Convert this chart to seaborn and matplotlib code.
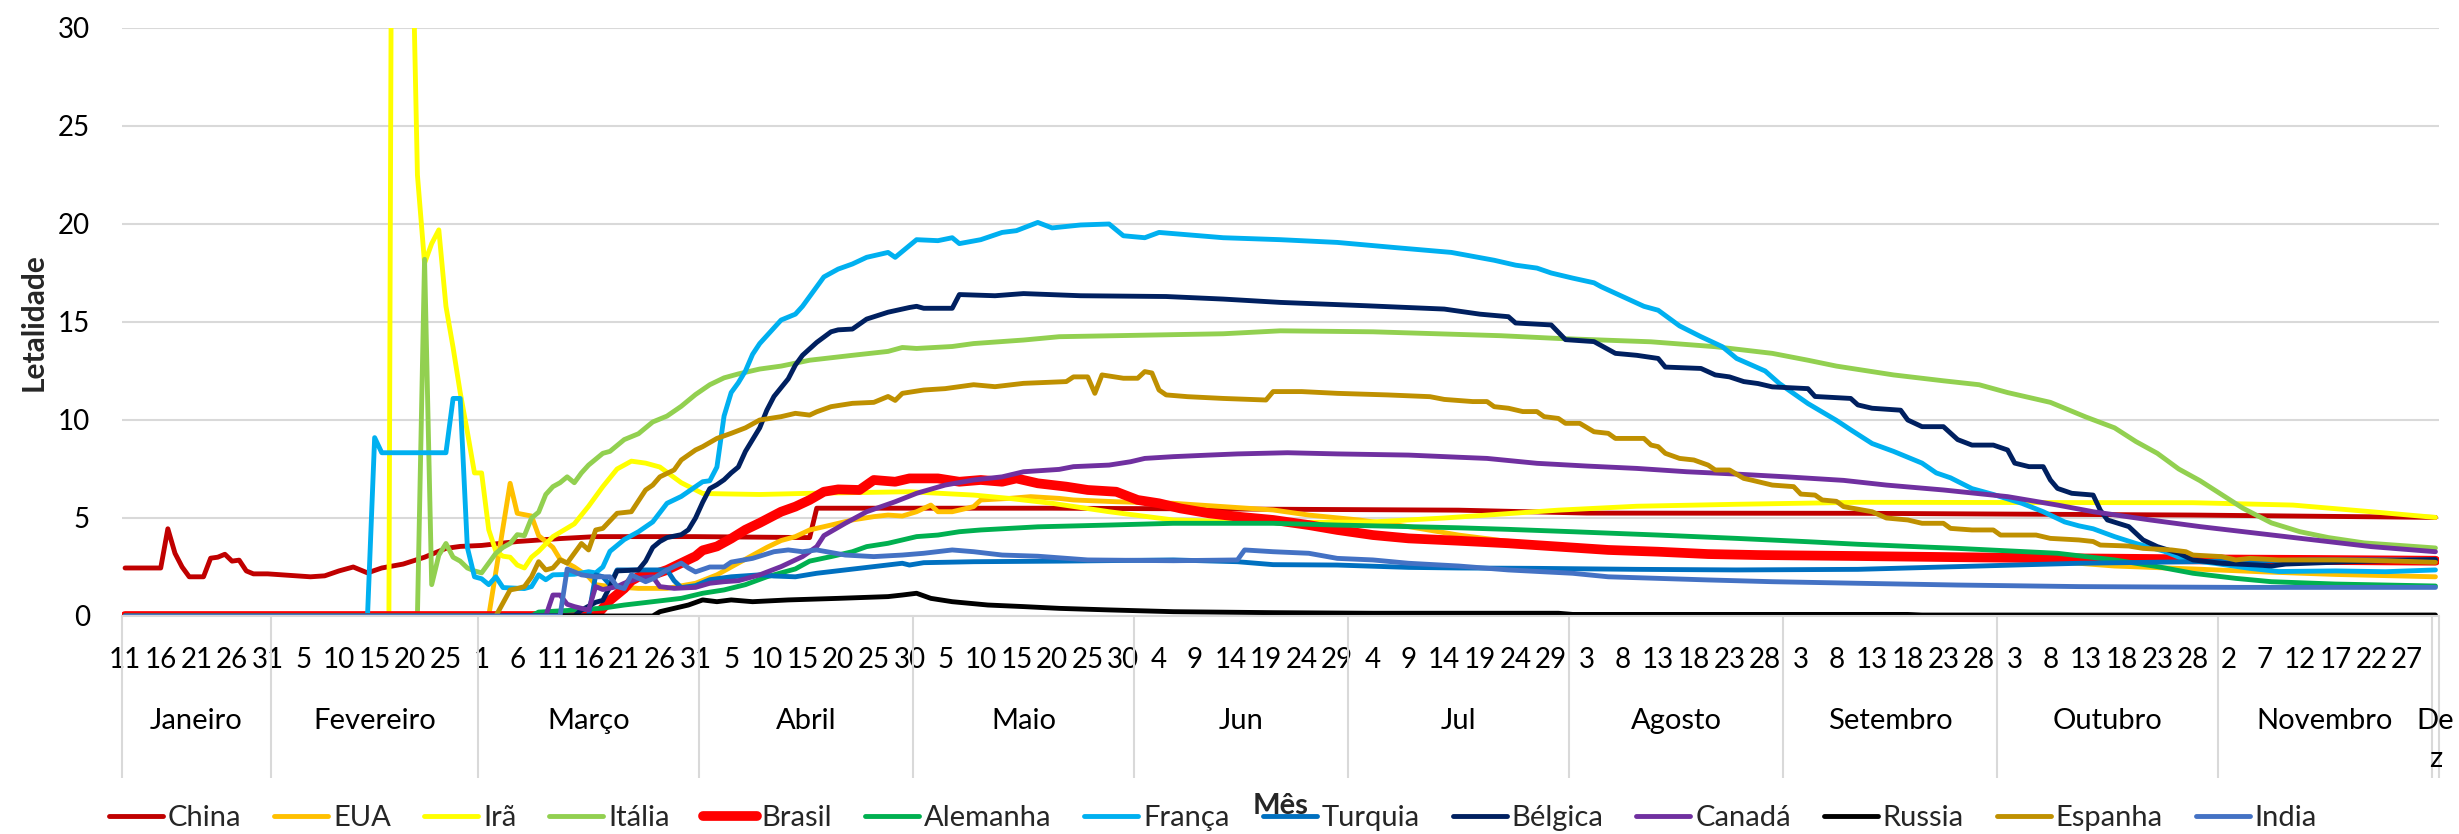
import matplotlib
matplotlib.use("Agg")
import matplotlib.pyplot as plt
import pandas as pd
import seaborn as sns

# ---------------- categories ----------------
dates = pd.date_range("2020-01-11", "2020-12-01").drop(pd.Timestamp("2020-08-31"))
month_names = ["Janeiro", "Fevereiro", "Março", "Abril", "Maio", "Jun", "Jul",
               "Agosto", "Setembro", "Outubro", "Novembro", "De\nz"]

countries = ["China", "EUA", "Irã", "Itália", "Brasil", "Alemanha", "França",
             "Turquia", "Bélgica", "Canadá", "Russia", "Espanha", "India"]
colors = {"China": "#C00000", "EUA": "#FFC000", "Irã": "#FFFF00", "Itália": "#92D050",
          "Brasil": "#FF0000", "Alemanha": "#00B050", "França": "#00B0F0",
          "Turquia": "#0070C0", "Bélgica": "#002060", "Canadá": "#7030A0",
          "Russia": "#000000", "Espanha": "#BF9000", "India": "#4472C4"}

# ---------------- series: (day index, letalidade %) ----------------
china = [(0, 2.45), (5, 2.45), (6, 4.45), (7, 3.2), (8, 2.5), (9, 2.0), (11, 2.0), (12, 2.95),
         (13, 3.0), (14, 3.15), (15, 2.8), (16, 2.85), (17, 2.3), (18, 2.15), (20, 2.15), (22, 2.1),
         (26, 2.0), (28, 2.05), (30, 2.3), (32, 2.5), (34, 2.2), (36, 2.45), (39, 2.65), (42, 3.0),
         (45, 3.45), (47, 3.55), (50, 3.6), (55, 3.8), (61, 3.95), (66, 4.05), (80, 4.05), (96, 4.0),
         (97, 5.5), (130, 5.5), (160, 5.45), (187, 5.4), (205, 5.25), (243, 5.24), (290, 5.15),
         (324, 5.03)]
eua = [(0, 0), (51, 0), (54, 6.77), (55, 5.24), (57, 5.1), (58, 4.1), (59, 3.8), (60, 3.5),
       (61, 2.9), (63, 2.5), (65, 2.0), (66, 1.6), (68, 1.5), (72, 1.41), (76, 1.41), (80, 1.67),
       (83, 2.1), (86, 2.7), (88, 3.1), (90, 3.5), (92, 3.85), (94, 4.05), (96, 4.39), (99, 4.64),
       (102, 4.9), (105, 5.07), (107, 5.15), (109, 5.1), (111, 5.32), (113, 5.66), (114, 5.32),
       (116, 5.32), (118, 5.49), (119, 5.58), (120, 5.92), (124, 6.0), (127, 6.09), (131, 6.0),
       (133, 5.92), (139, 5.83), (147, 5.75), (154, 5.58), (161, 5.41), (166, 5.15), (173, 4.9),
       (180, 4.56), (187, 4.13), (193, 3.85), (200, 3.6), (215, 3.3), (230, 3.15), (245, 3.05),
       (260, 2.95), (270, 2.8), (279, 2.55), (290, 2.4), (300, 2.25), (310, 2.12), (324, 2.0)]
ira = [(0, 0), (37, 0), (38, 100), (39, 100), (40, 40), (41, 22.5), (42, 18.0), (43, 19.0),
       (44, 19.7), (45, 15.8), (46, 13.7), (47, 11.4), (48, 9.4), (49, 7.3), (50, 7.3), (51, 4.4),
       (52, 3.3), (53, 3.05), (54, 3.0), (55, 2.6), (56, 2.45), (57, 3.0), (58, 3.3), (60, 4.05),
       (63, 4.7), (65, 5.6), (67, 6.6), (69, 7.5), (71, 7.9), (73, 7.8), (75, 7.6), (78, 6.8),
       (81, 6.25), (89, 6.2), (96, 6.26), (110, 6.34), (119, 6.17), (124, 6.0), (130, 5.75),
       (138, 5.32), (147, 4.9), (161, 4.76), (175, 4.8), (185, 5.0), (201, 5.4), (212, 5.6),
       (226, 5.7), (243, 5.8), (290, 5.78), (304, 5.66), (315, 5.32), (324, 5.03)]
italia = [(0, 0), (41, 0), (42, 18.2), (43, 1.6), (44, 3.1), (45, 3.7), (46, 3.0), (47, 2.8),
          (48, 2.45), (49, 2.3), (50, 2.2), (51, 2.7), (52, 3.2), (53, 3.5), (54, 3.7), (55, 4.15),
          (56, 4.1), (57, 5.0), (58, 5.3), (59, 6.2), (60, 6.6), (61, 6.8), (62, 7.1), (63, 6.8),
          (64, 7.3), (65, 7.7), (67, 8.3), (68, 8.4), (70, 9.0), (72, 9.3), (74, 9.9), (76, 10.2),
          (78, 10.7), (80, 11.3), (82, 11.8), (84, 12.15), (86, 12.35), (89, 12.6), (92, 12.75),
          (96, 13.05), (102, 13.3), (107, 13.5), (109, 13.7), (111, 13.65), (116, 13.75),
          (119, 13.9), (126, 14.08), (131, 14.25), (154, 14.4), (162, 14.55), (175, 14.5),
          (193, 14.3), (201, 14.16), (214, 13.99), (223, 13.74), (231, 13.4), (236, 13.05),
          (240, 12.75), (248, 12.3), (255, 12.0), (260, 11.8), (264, 11.4), (270, 10.9),
          (275, 10.15), (279, 9.6), (282, 8.9), (285, 8.3), (288, 7.5), (291, 6.9), (294, 6.2),
          (297, 5.5), (301, 4.75), (305, 4.3), (309, 4.0), (314, 3.73), (324, 3.47)]
brasil = [(0, 0), (66, 0), (67, 0.4), (68, 0.8), (69, 1.1), (70, 1.4), (71, 1.8), (72, 2.0),
          (74, 2.1), (76, 2.35), (78, 2.7), (80, 3.05), (81, 3.35), (83, 3.55), (85, 3.95),
          (87, 4.4), (89, 4.75), (92, 5.32), (94, 5.58), (96, 5.92), (98, 6.34), (100, 6.46),
          (103, 6.43), (105, 6.94), (108, 6.85), (110, 7.02), (114, 7.02), (117, 6.85), (120, 6.94),
          (123, 6.85), (125, 7.02), (128, 6.77), (132, 6.6), (135, 6.43), (139, 6.34), (142, 5.92),
          (145, 5.75), (148, 5.49), (152, 5.24), (156, 5.07), (161, 4.9), (166, 4.64), (170, 4.39),
          (175, 4.13), (180, 3.96), (187, 3.84), (194, 3.71), (201, 3.54), (208, 3.37), (215, 3.28),
          (222, 3.16), (229, 3.11), (243, 3.06), (257, 3.0), (274, 2.94), (290, 2.89), (307, 2.86),
          (324, 2.82)]
alemanha = [(0, 0), (57, 0), (58, 0.2), (63, 0.3), (67, 0.4), (70, 0.56), (74, 0.73), (78, 0.9),
            (81, 1.16), (84, 1.33), (87, 1.6), (90, 2.0), (94, 2.4), (96, 2.8), (99, 3.03),
            (102, 3.28), (104, 3.54), (107, 3.71), (109, 3.88), (111, 4.05), (114, 4.13), (117, 4.3),
            (120, 4.39), (124, 4.47), (128, 4.55), (138, 4.64), (147, 4.73), (161, 4.73), (170, 4.64),
            (180, 4.56), (187, 4.5), (194, 4.42), (203, 4.3), (215, 4.13), (226, 3.96), (236, 3.79),
            (243, 3.66), (257, 3.45), (271, 3.2), (279, 2.86), (285, 2.52), (290, 2.18), (296, 1.92),
            (301, 1.75), (310, 1.63), (324, 1.53)]
franca = [(0, 0), (34, 0), (35, 9.1), (36, 8.33), (45, 8.33), (46, 11.1), (47, 11.1), (48, 3.5),
          (49, 2.0), (50, 1.9), (51, 1.6), (52, 2.0), (53, 1.45), (56, 1.4), (57, 1.5), (58, 2.1),
          (59, 1.85), (60, 2.1), (63, 2.13), (65, 2.26), (66, 2.2), (67, 2.5), (68, 3.3), (69, 3.6),
          (70, 3.9), (72, 4.3), (74, 4.8), (76, 5.75), (78, 6.1), (80, 6.6), (81, 6.85), (82, 6.9),
          (83, 7.6), (84, 10.2), (85, 11.4), (86, 11.9), (87, 12.5), (88, 13.35), (89, 13.9),
          (90, 14.3), (92, 15.1), (94, 15.4), (95, 15.8), (96, 16.3), (98, 17.3), (100, 17.7),
          (102, 17.96), (104, 18.3), (107, 18.55), (108, 18.3), (111, 19.2), (114, 19.15),
          (116, 19.3), (117, 19.0), (120, 19.2), (123, 19.57), (125, 19.66), (128, 20.08),
          (130, 19.8), (134, 19.95), (138, 20.0), (140, 19.4), (143, 19.3), (145, 19.57),
          (154, 19.3), (162, 19.2), (170, 19.06), (178, 18.8), (186, 18.55), (192, 18.15),
          (195, 17.9), (198, 17.75), (200, 17.5), (203, 17.24), (206, 17.0), (207, 16.8),
          (210, 16.3), (213, 15.8), (215, 15.6), (218, 14.8), (221, 14.25), (224, 13.74),
          (226, 13.14), (230, 12.5), (232, 11.86), (236, 10.84), (240, 9.98), (242, 9.5),
          (245, 8.8), (248, 8.4), (252, 7.8), (254, 7.3), (256, 7.05), (259, 6.5), (262, 6.2),
          (266, 5.75), (269, 5.32), (272, 4.8), (274, 4.6), (276, 4.45), (279, 4.05), (282, 3.7),
          (286, 3.3), (289, 2.86), (293, 2.69), (298, 2.43), (302, 2.27), (310, 2.3), (317, 2.26),
          (324, 2.35)]
turquia = [(0, 0), (65, 0), (66, 2.1), (67, 2.0), (68, 1.6), (69, 2.35), (76, 2.35), (77, 1.8),
           (78, 1.45), (80, 1.55), (82, 1.85), (85, 2.0), (89, 2.1), (91, 2.04), (94, 2.0),
           (97, 2.18), (101, 2.35), (105, 2.52), (109, 2.69), (110, 2.6), (112, 2.72), (119, 2.77),
           (131, 2.8), (147, 2.86), (156, 2.77), (161, 2.62), (170, 2.6), (180, 2.48), (187, 2.45),
           (198, 2.43), (212, 2.38), (226, 2.35), (243, 2.38), (257, 2.52), (274, 2.69), (290, 2.77),
           (307, 2.86), (324, 2.86)]
belgica = [(0, 0), (63, 0), (64, 0.3), (66, 0.7), (67, 0.8), (68, 1.5), (69, 2.3), (72, 2.35),
           (73, 2.8), (74, 3.5), (75, 3.8), (76, 4.0), (78, 4.15), (79, 4.4), (80, 5.0), (81, 5.8),
           (82, 6.5), (83, 6.7), (84, 6.95), (85, 7.3), (86, 7.6), (87, 8.4), (88, 9.0), (89, 9.6),
           (90, 10.5), (91, 11.2), (93, 12.1), (94, 12.8), (95, 13.3), (97, 13.96), (99, 14.5),
           (100, 14.6), (102, 14.64), (104, 15.15), (107, 15.5), (110, 15.74), (111, 15.8),
           (112, 15.7), (116, 15.7), (117, 16.4), (122, 16.34), (126, 16.45), (134, 16.34),
           (146, 16.3), (154, 16.17), (162, 16.0), (174, 15.83), (185, 15.66), (190, 15.4),
           (194, 15.27), (195, 14.95), (200, 14.85), (202, 14.1), (206, 14.0), (209, 13.4),
           (212, 13.3), (215, 13.14), (216, 12.7), (221, 12.63), (223, 12.3), (225, 12.2),
           (227, 11.96), (229, 11.86), (231, 11.69), (236, 11.6), (237, 11.2), (242, 11.1),
           (243, 10.77), (245, 10.6), (249, 10.5), (250, 10.0), (252, 9.66), (255, 9.66), (257, 9.0),
           (259, 8.72), (262, 8.72), (264, 8.47), (265, 7.8), (267, 7.62), (269, 7.62), (270, 6.94),
           (271, 6.51), (273, 6.26), (276, 6.17), (277, 5.4), (278, 4.9), (281, 4.56), (283, 3.88),
           (285, 3.54), (288, 3.2), (290, 2.86), (294, 2.69), (299, 2.6), (301, 2.55), (303, 2.65),
           (312, 2.77), (324, 2.88)]
canada = [(0, 0), (59, 0), (60, 1.07), (61, 1.07), (62, 0.6), (63, 0.48), (64, 0.39), (65, 0.31),
          (66, 1.5), (67, 1.35), (69, 1.5), (70, 1.67), (72, 1.92), (74, 2.0), (75, 1.5), (77, 1.41),
          (80, 1.46), (82, 1.67), (84, 1.75), (86, 1.8), (89, 2.1), (92, 2.52), (95, 3.03),
          (97, 3.54), (98, 4.1), (101, 4.73), (104, 5.32), (108, 5.83), (111, 6.26), (115, 6.68),
          (119, 6.94), (123, 7.1), (126, 7.36), (131, 7.48), (133, 7.62), (138, 7.7), (141, 7.87),
          (143, 8.04), (147, 8.13), (152, 8.21), (156, 8.27), (163, 8.33), (170, 8.27), (180, 8.21),
          (187, 8.1), (191, 8.04), (198, 7.79), (205, 7.65), (212, 7.53), (219, 7.36), (226, 7.24),
          (233, 7.1), (241, 6.92), (247, 6.68), (255, 6.43), (264, 6.09), (271, 5.66), (276, 5.32),
          (284, 4.9), (291, 4.56), (299, 4.22), (307, 3.88), (315, 3.54), (324, 3.28)]
russia = [(0, 0), (74, 0), (75, 0.22), (77, 0.39), (79, 0.56), (81, 0.82), (83, 0.73), (85, 0.82),
          (88, 0.73), (93, 0.82), (100, 0.9), (107, 0.99), (109, 1.07), (111, 1.16), (113, 0.9),
          (116, 0.73), (121, 0.56), (126, 0.48), (131, 0.39), (138, 0.31), (147, 0.22), (161, 0.17),
          (175, 0.14), (201, 0.14), (203, 0.08), (250, 0.08), (252, 0.05), (324, 0.05)]
espanha = [(0, 0), (52, 0), (54, 1.33), (55, 1.4), (56, 1.5), (57, 2.0), (58, 2.77), (59, 2.35),
           (60, 2.45), (61, 2.86), (62, 2.7), (64, 3.7), (65, 3.37), (66, 4.39), (67, 4.47),
           (69, 5.24), (71, 5.32), (73, 6.43), (74, 6.68), (75, 7.1), (77, 7.45), (78, 7.96),
           (80, 8.47), (81, 8.64), (83, 9.06), (85, 9.32), (87, 9.6), (89, 10.0), (92, 10.17),
           (94, 10.34), (96, 10.25), (97, 10.42), (99, 10.68), (102, 10.85), (105, 10.9), (107, 11.2),
           (108, 11.0), (109, 11.36), (112, 11.53), (115, 11.6), (119, 11.8), (122, 11.7),
           (126, 11.87), (132, 11.96), (133, 12.2), (135, 12.2), (136, 11.36), (137, 12.3),
           (140, 12.13), (142, 12.13), (143, 12.47), (144, 12.4), (145, 11.53), (146, 11.28),
           (149, 11.19), (154, 11.1), (160, 11.02), (161, 11.45), (165, 11.45), (170, 11.36),
           (177, 11.28), (183, 11.19), (185, 11.05), (189, 10.94), (191, 10.94), (192, 10.68),
           (194, 10.6), (196, 10.43), (198, 10.43), (199, 10.17), (201, 10.08), (202, 9.83),
           (204, 9.83), (206, 9.4), (208, 9.32), (209, 9.06), (213, 9.06), (214, 8.72), (215, 8.64),
           (216, 8.3), (218, 8.04), (220, 7.96), (222, 7.7), (223, 7.45), (225, 7.45), (227, 7.02),
           (228, 6.94), (231, 6.68), (234, 6.6), (235, 6.22), (237, 6.17), (238, 5.92), (240, 5.85),
           (241, 5.58), (243, 5.45), (245, 5.32), (247, 5.0), (250, 4.9), (252, 4.73), (255, 4.73),
           (256, 4.47), (259, 4.39), (262, 4.39), (263, 4.13), (268, 4.13), (270, 3.96), (274, 3.88),
           (276, 3.8), (277, 3.62), (281, 3.57), (283, 3.45), (287, 3.37), (289, 3.28), (290, 3.11),
           (294, 3.03), (296, 2.86), (298, 2.94), (302, 2.86), (310, 2.86), (317, 2.82), (324, 2.74)]
india = [(0, 0), (61, 0), (62, 2.4), (64, 2.1), (66, 2.0), (68, 2.0), (69, 1.5), (70, 1.4),
         (71, 2.1), (73, 1.75), (74, 1.9), (76, 2.35), (78, 2.7), (79, 2.45), (80, 2.25), (82, 2.5),
         (84, 2.5), (85, 2.75), (88, 2.94), (91, 3.28), (93, 3.37), (95, 3.28), (97, 3.37),
         (101, 3.11), (105, 3.03), (109, 3.11), (112, 3.2), (116, 3.37), (119, 3.28), (123, 3.11),
         (128, 3.05), (135, 2.86), (147, 2.82), (156, 2.86), (157, 3.37), (161, 3.28), (166, 3.2),
         (170, 2.94), (175, 2.86), (180, 2.69), (187, 2.55), (194, 2.35), (203, 2.18), (208, 2.0),
         (215, 1.92), (222, 1.84), (231, 1.75), (243, 1.67), (257, 1.58), (274, 1.5), (296, 1.46),
         (324, 1.46)]

series = {"China": china, "EUA": eua, "Irã": ira, "Itália": italia, "Brasil": brasil,
          "Alemanha": alemanha, "França": franca, "Turquia": turquia, "Bélgica": belgica,
          "Canadá": canada, "Russia": russia, "Espanha": espanha, "India": india}

rows = [(name, d, v) for name in countries for d, v in series[name]]
df = pd.DataFrame(rows, columns=["pais", "dia", "letalidade"])

# ---------------- figure ----------------
sns.set_theme(style="white")
plt.rcParams["font.family"] = ["Lato", "DejaVu Sans"]

W, H = 2459, 834
fig = plt.figure(figsize=(W / 100, H / 100), dpi=100)
ax_left, ax_right, ax_top, ax_bottom = 121.5, 2439, 28, 616
ax = fig.add_axes([ax_left / W, 1 - ax_bottom / H, (ax_right - ax_left) / W, (ax_bottom - ax_top) / H])

for name in countries:
    sub = df[df["pais"] == name]
    sns.lineplot(data=sub, x="dia", y="letalidade", ax=ax, color=colors[name],
                 linewidth=7.0 if name == "Brasil" else 3.5, label=name,
                 sort=False, estimator=None, solid_capstyle="round", solid_joinstyle="round")

handles, labels = ax.get_legend_handles_labels()
if ax.get_legend() is not None:
    ax.get_legend().remove()

n = len(dates)
ax.set_xlim(-0.5, n - 0.5)
ax.set_ylim(0, 30)
ax.set_yticks(range(0, 31, 5))
ax.tick_params(axis="y", length=0, pad=22.7, labelsize=20, labelcolor="black")

ticks = list(range(0, n, 5))
ax.set_xticks(ticks)
ax.set_xticklabels([str(dates[i].day) for i in ticks], fontsize=20, va="baseline")
ax.tick_params(axis="x", length=0, pad=37.4, labelcolor="black")

ax.grid(axis="y", color="#D9D9D9", linewidth=1.5)
ax.grid(axis="x", visible=False)
ax.set_axisbelow(True)
for s in ["left", "top", "right"]:
    ax.spines[s].set_visible(False)
ax.spines["bottom"].set_color("#D9D9D9")
ax.spines["bottom"].set_linewidth(1.5)

# month groups of the category axis
months = pd.Series(dates.month)
counts = months.value_counts().sort_index().tolist()
bounds = [-0.5]
for c in counts:
    bounds.append(bounds[-1] + c)
sep_bottom = -(778 - ax_bottom) / (ax_bottom - ax_top)
ax.vlines(bounds, sep_bottom, 0, transform=ax.get_xaxis_transform(), colors="#D9D9D9",
          linewidth=1.5, clip_on=False)
lab_top = -(708 - ax_bottom) / (ax_bottom - ax_top)
for k, name in enumerate(month_names):
    xc = (bounds[k] + bounds[k + 1]) / 2
    ax.text(xc, lab_top, name, transform=ax.get_xaxis_transform(), ha="center", va="top",
            fontsize=21, color="black", linespacing=1.55)

ax.set_ylabel("Letalidade", fontsize=21.5, fontweight="bold", va="center", ha="center")
ax.yaxis.set_label_coords(-(ax_left - 33.5) / (ax_right - ax_left), 0.5)
ax.set_xlabel("Mês", fontsize=21, fontweight="bold", va="baseline")
ax.xaxis.set_label_coords(0.5, -(814 - ax_bottom) / (ax_bottom - ax_top))

fig.legend(handles, labels, loc="center", bbox_to_anchor=(1213 / W, 1 - 818 / H), ncol=13,
           frameon=False, fontsize=21, handlelength=1.85, handletextpad=0.17,
           columnspacing=1.13, borderaxespad=0, borderpad=0)

fig.savefig("out.png", dpi=100)
